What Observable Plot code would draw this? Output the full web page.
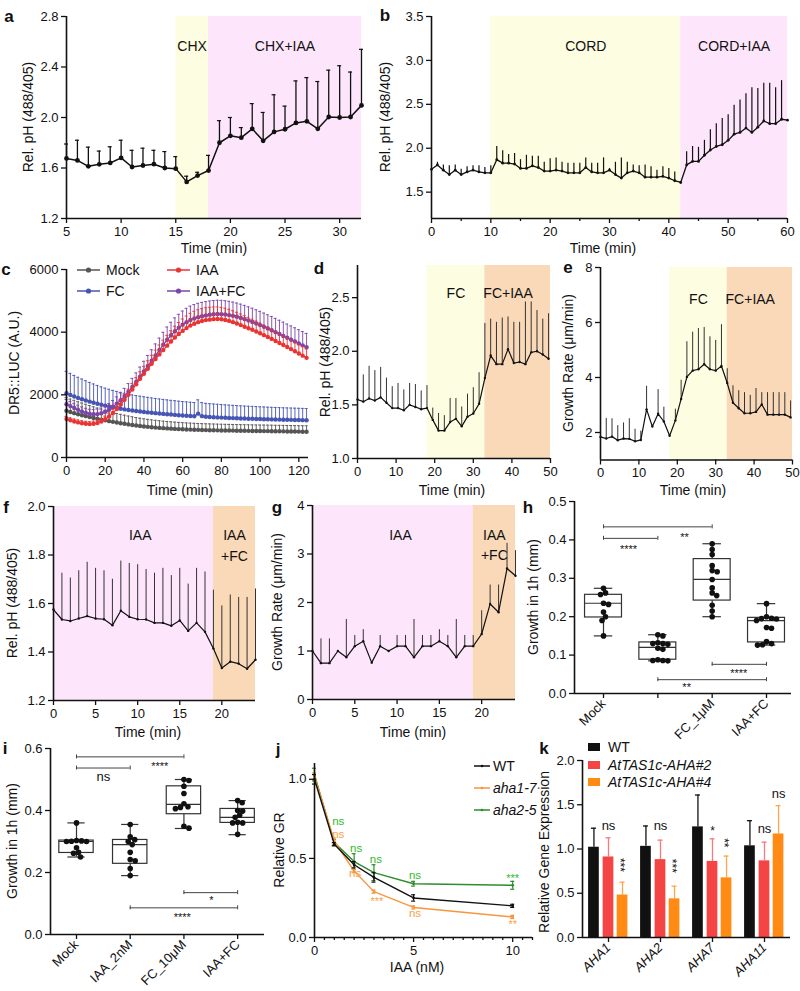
<!DOCTYPE html>
<html><head><meta charset="utf-8">
<script src="https://cdn.jsdelivr.net/npm/d3@7"></script>
<script src="https://cdn.jsdelivr.net/npm/@observablehq/plot@0.6"></script>
<style>
body{margin:0;background:#fff;}
#fig{position:relative;width:800px;height:991px;overflow:hidden;background:#fff;font-family:"Liberation Sans",Arial,Helvetica,sans-serif;color:#111;}
#fig svg{position:absolute;}
.t{position:absolute;white-space:nowrap;line-height:1;}
</style></head><body><div id="fig"></div>
<script>
// ---------------- DATA ----------------
// a
const aTime = [5,6,7,8,9,10,11,12,13,14,15,16,17,18,19,20,21,22,23,24,25,26,27,28,29,30,31,32];
const aMean = [1.676,1.66,1.613,1.629,1.64,1.68,1.608,1.62,1.63,1.60,1.595,1.49,1.54,1.58,1.80,1.855,1.84,1.91,1.815,1.886,1.907,1.957,1.97,1.91,2.004,2.0,2.004,2.096];
const aTop  = [1.79,1.82,1.765,1.734,1.768,1.82,1.74,1.757,1.74,1.73,1.69,1.535,1.566,1.70,1.975,2.0,1.92,2.11,2.04,2.18,2.09,2.29,2.316,2.285,2.375,2.41,2.36,2.54];
const aPhaseStart = [15,18], aPhaseEnd = [18,32], aPhaseLabel = ["CHX","CHX+IAA"];
// b
const bTime = [0,1,2,3,4,5,6,7,8,9,10,11,12,13,14,15,16,17,18,19,20,21,22,23,24,25,26,27,28,29,30,31,32,33,34,35,36,37,38,39,40,41,42,43,44,45,46,47,48,49,50,51,52,53,54,55,56,57,58,59,60];
const bMean = [1.76,1.81,1.75,1.70,1.75,1.70,1.73,1.75,1.73,1.72,1.72,
  1.87,1.83,1.83,1.82,1.77,1.77,1.80,1.78,1.74,1.74,
  1.75,1.74,1.72,1.72,1.72,1.78,1.73,1.72,1.72,1.75,
  1.70,1.66,1.72,1.74,1.72,1.67,1.67,1.67,1.68,1.66,
  1.63,1.61,1.81,1.85,1.85,1.92,1.98,2.02,2.04,2.09,
  2.16,2.18,2.23,2.18,2.24,2.31,2.28,2.28,2.33,2.32];
const bTop = [1.76,1.84,1.81,1.80,1.81,1.76,1.79,1.80,1.80,1.78,1.80,
  2.02,1.97,1.93,1.94,1.87,1.92,1.91,1.91,1.84,1.88,
  1.89,1.84,1.83,1.83,1.83,1.89,1.83,1.83,1.89,1.77,
  1.84,1.89,1.84,1.81,1.80,1.81,1.79,1.75,1.79,1.77,
  1.73,1.61,1.96,2.02,2.01,2.09,2.21,2.28,2.34,2.38,
  2.49,2.55,2.62,2.69,2.68,2.74,2.74,2.69,2.77,2.32];
const bPhaseStart = [10,42], bPhaseEnd = [42,60], bPhaseLabel = ["CORD","CORD+IAA"];
// c
const cTime = [0,2,4,6,8,10,12,14,16,18,20,22,24,26,28,30,32,34,36,38,40,42,44,46,48,50,52,54,56,58,60,62,64,66,68,70,72,74,76,78,80,82,84,86,88,90,92,94,96,98,100,102,104,106,108,110,112,114,116,118,120,122,124];
const cSeries = ["Mock","FC","IAA+FC","IAA"];
const cMock = [1490,1450,1415,1380,1350,1320,1290,1262,1236,1210, 1185,1160,1138,1115,1095,1075,1056,1038,1020,1004, 990,978,966,955,945,936,928,920,913,906, 900,895,890,886,882,878,875,872,869,866, 864,862,860,858,856,854,852,850,848,846, 845,843,842,840,838,836,834,832,830,828, 826,824,822];
const cMockErr = [420,415,410,400,390,380,368,356,344,332, 320,310,300,290,282,275,268,262,256,250, 245,240,236,232,228,225,222,219,216,214, 212,210,208,206,204,203,202,201,200,199, 198,197,196,196,195,195,194,194,193,193, 192,192,191,191,190,190,190,190,190,190, 190,190,190];
const cFC = [2050,1995,1945,1900,1860,1820,1782,1748,1715,1685, 1655,1628,1602,1578,1556,1535,1516,1498,1482,1467, 1453,1440,1427,1415,1403,1392,1381,1370,1360,1350, 1341,1333,1325,1318,1400,1320,1300,1292,1285,1279, 1273,1267,1262,1257,1252,1247,1243,1239,1235,1231, 1227,1223,1219,1216,1213,1210,1207,1204,1201,1198, 1195,1192,1190];
const cFCErr = [700,690,675,660,645,630,615,600,585,570, 560,550,540,532,524,516,508,500,495,490, 485,480,475,470,466,462,458,455,452,449, 446,443,440,437,440,432,429,426,423,420, 417,414,411,408,405,402,400,398,396,394, 392,390,388,386,384,382,380,379,378,377, 376,375,374];
const cIAA = [1230,1190,1150,1120,1095,1075,1066,1075,1100,1150, 1220,1310,1420,1550,1690,1840,2000,2170,2340,2510, 2670,2830,2990,3140,3290,3430,3570,3700,3830,3940, 4040,4130,4210,4270,4320,4355,4385,4400,4415,4420, 4410,4390,4360,4320,4275,4225,4175,4125,4075,4020, 3965,3905,3845,3785,3720,3655,3590,3525,3460,3390, 3320,3250,3180];
const cIAAErr = [80,80,80,80,80,80,80,85,90,95, 100,110,120,135,150,165,180,195,210,225, 240,255,270,285,300,315,330,345,360,370, 380,385,390,395,395,395,395,395,390,385, 380,375,370,365,360,355,350,345,340,335, 330,325,320,315,310,305,300,300,295,295, 290,290,285];
const cIAAFC = [1700,1640,1580,1520,1465,1420,1390,1380,1385,1410, 1460,1530,1620,1720,1830,1960,2100,2250,2410,2580, 2750,2920,3090,3260,3430,3600,3760,3900,4030,4140, 4240,4320,4390,4440,4480,4510,4535,4555,4570,4580, 4575,4565,4545,4520,4490,4455,4415,4370,4325,4275, 4225,4170,4115,4060,4000,3940,3880,3820,3760,3700, 3640,3580,3520];
const cIAAFCErr = [150,150,150,150,150,150,150,150,160,170, 180,190,200,215,230,245,260,275,290,305, 320,335,350,365,380,395,405,415,425,430, 435,440,440,440,440,440,440,440,440,440, 440,440,440,440,440,440,440,440,440,440, 440,440,440,440,440,440,440,440,440,440, 440,440,440];
// d
const dTime = [0,1.5,3,4.5,6,7.5,9,10.5,12,13.5,15,16.5,18,19.5,21,22.5,24,25.5,27,28.5,30,31.5,33,34.5,36,37.5,39,40.5,42,43.5,45,46.5,48,49.5];
const dMean = [1.55,1.53,1.56,1.54,1.57,1.52,1.47,1.47,1.45,1.50,1.48,1.46,1.47,1.36,1.26,1.26,1.34,1.37,1.30,1.39,1.42,1.51,1.75,1.96,1.88,1.88,2.02,1.89,1.90,1.88,1.99,2.00,1.97,1.93];
const dTop  = [1.55,1.78,1.86,1.82,1.85,1.75,1.67,1.70,1.64,1.70,1.69,1.63,1.68,1.47,1.42,1.40,1.56,1.56,1.48,1.60,1.66,1.80,2.26,2.30,2.27,2.31,2.32,2.27,2.27,2.46,2.46,2.38,2.30,2.35];
const dPhaseStart = [18,33], dPhaseEnd = [33,50], dPhaseLabel = ["FC","FC+IAA"], dLabelAt = [25.5,39];
// e
const eTime = dTime;
const eMean = [1.84,1.78,1.85,1.72,1.78,1.77,1.68,1.73,2.84,2.22,2.68,2.40,1.88,2.44,3.22,4.02,4.25,4.30,4.48,4.30,4.25,4.42,3.80,3.08,2.88,2.70,2.70,2.75,3.02,2.65,2.65,2.65,2.65,2.55];
const eTop  = [1.84,2.51,2.50,2.25,2.35,2.50,2.12,2.05,3.68,2.22,3.56,2.92,1.88,2.85,3.90,5.30,5.65,5.78,5.82,5.48,5.35,5.92,4.32,3.70,3.52,3.45,3.35,3.60,3.45,3.45,3.45,3.45,3.45,3.15];
const ePhaseStart = [18,33], ePhaseEnd = [33,50], ePhaseLabel = ["FC","FC+IAA"], eLabelAt = [25.5,39];
// f
const fTime = [0,1,2,3,4,5,6,7,8,9,10,11,12,13,14,15,16,17,18,19,20,21,22,23,24];
const fMean = [1.575,1.534,1.528,1.538,1.548,1.538,1.535,1.51,1.57,1.545,1.535,1.534,1.52,1.52,1.508,1.53,1.487,1.52,1.483,1.414,1.334,1.36,1.352,1.331,1.368];
const fTop  = [1.575,1.725,1.705,1.735,1.77,1.745,1.735,1.70,1.775,1.765,1.76,1.74,1.725,1.745,1.715,1.745,1.68,1.745,1.73,1.655,1.59,1.635,1.625,1.625,1.66];
const fPhaseStart = [0,19], fPhaseEnd = [19,24], fPhaseLabel = ["IAA","IAA\n+FC"], fLabelAt = [10.3,21.5];
// g
const gTime = fTime;
const gMean = [1.0,0.75,0.75,1.0,0.87,1.1,1.2,0.76,1.1,1.0,1.1,1.1,0.87,1.1,1.1,1.2,1.1,0.87,1.1,1.1,1.35,1.97,1.8,2.7,2.55];
const gTop  = [1.0,1.25,1.25,1.0,1.65,1.32,1.44,0.76,1.32,1.0,1.32,1.32,1.65,1.32,1.32,1.44,1.32,1.65,1.32,1.32,1.83,2.36,2.36,3.22,3.07];
const gPhaseStart = [0,19], gPhaseEnd = [19,24], gPhaseLabel = ["IAA","IAA\n+FC"], gLabelAt = [10.4,21.5];
// h
const hCats = ["Mock","IAA","FC_1μM","IAA+FC"];
const hTickLabels = ["Mock","","FC_1μM","IAA+FC"];
const hPts = [
  [0.274,0.262,0.258,0.235,0.232,0.212,0.2,0.19,0.15],
  [0.153,0.15,0.132,0.13,0.13,0.128,0.118,0.115,0.088,0.086,0.086,0.085],
  [0.39,0.375,0.362,0.333,0.32,0.317,0.297,0.275,0.262,0.255,0.23,0.215,0.2],
  [0.234,0.2,0.196,0.195,0.194,0.19,0.172,0.17,0.135,0.13,0.127,0.126]];
const hMin = [0.15,0.085,0.2,0.126], hQ1 = [0.198,0.088,0.242,0.133], hMed = [0.235,0.12,0.297,0.19], hQ3 = [0.257,0.133,0.35,0.197], hMax = [0.274,0.153,0.39,0.234];
const hBrFrom = [0,0,2,1], hBrTo = [2,1,3,3], hBrY = [0.434,0.404,0.076,0.036];
const hBrText = ["**","****","****","**"], hBrTx = [1.49,0.46,2.49,1.53], hBrTy = [0.415,0.384,0.059,0.023];
// i
const iCats = ["Mock","IAA_2nM","FC_10μM","IAA+FC"];
const iPts = [
  [0.36,0.303,0.302,0.301,0.30,0.30,0.28,0.265,0.262,0.25],
  [0.355,0.315,0.306,0.30,0.29,0.265,0.242,0.238,0.213,0.19],
  [0.5,0.497,0.478,0.455,0.422,0.412,0.41,0.406,0.349,0.343],
  [0.432,0.425,0.4,0.398,0.385,0.378,0.362,0.36,0.36,0.323]];
const iMin = [0.25,0.19,0.342,0.322], iQ1 = [0.263,0.228,0.388,0.36], iMed = [0.30,0.29,0.42,0.378], iQ3 = [0.303,0.305,0.478,0.405], iMax = [0.36,0.355,0.5,0.432];
const iBrFrom = [0,0,2,1], iBrTo = [2,1,3,3], iBrY = [0.573,0.537,0.135,0.086];
const iBrText = ["****","ns","*","****"], iBrTx = [1.55,0.5,2.51,1.97], iBrTy = [0.551,0.508,0.118,0.066];
// j
const jX = [0,1,2,3,5,10];
const jNames = ["WT","aha1-7","aha2-5"];
const jWT = [1.0,0.59,0.46,0.38,0.25,0.20], jWTErr = [0.03,0.01,0.02,0.03,0.02,0.01];
const jA17 = [1.02,0.61,0.42,0.29,0.19,0.13], jA17Err = [0.02,0.02,0.01,0.01,0.01,0.01];
const jA25 = [1.03,0.60,0.48,0.41,0.34,0.33], jA25Err = [0.04,0.02,0.05,0.05,0.015,0.025];
const jSigSeries = ["aha2-5","aha2-5","aha2-5","aha2-5","aha2-5","aha1-7","aha1-7","aha1-7","aha1-7","aha1-7"];
const jSigX = [1.2,2.1,3.1,5.07,10.0, 1.2,2.05,3.15,5.07,10.0];
const jSigY = [0.735,0.563,0.494,0.395,0.395, 0.652,0.405,0.247,0.152,0.10];
const jSigText = ["ns","ns","ns","ns","***", "ns","ns","***","ns","**"];
// k
const kGenes = ["AHA1","AHA2","AHA7","AHA11"];
const kGeno = ["WT","AtTAS1c-AHA#2","AtTAS1c-AHA#4"];
const kWT = [1.02,1.03,1.25,1.036], kWTErr = [0.215,0.23,0.36,0.284];
const k2 = [0.91,0.88,0.86,0.866], k2Err = [0.216,0.22,0.255,0.211];
const k4 = [0.48,0.437,0.674,1.17], k4Err = [0.145,0.143,0.246,0.32];
const kSigGene = [0,0,1,1,2,2,3,3], kSigGeno = [1,2,1,2,1,2,1,2];
const kSigY = [1.26,0.82,1.26,0.81,1.23,1.07,1.23,1.62];
const kSigText = ["ns","***","ns","***","*","**","ns","ns"];
const kSigRot = [0,90,0,90,0,90,0,0];

// ---------------- STYLE ----------------
const FONT = '"Liberation Sans", Arial, Helvetica, sans-serif';
const YEL = "#fdfde1", PINK = "#fde6fb", PEACH = "#f9d9b8";
const INK = "#111";
const fig = document.getElementById("fig");

function panel(frame, xs, ys, marks, m) {
  const mm = Object.assign({l: 44, r: 12, t: 12, b: 40}, m || {});
  const svg = Plot.plot({
    width: frame[1] - frame[0] + mm.l + mm.r,
    height: frame[3] - frame[2] + mm.t + mm.b,
    marginLeft: mm.l, marginRight: mm.r, marginTop: mm.t, marginBottom: mm.b,
    x: xs, y: ys, color: {type: "identity"},
    style: {fontFamily: FONT, fontSize: "13px", color: INK, background: "none", overflow: "visible"},
    marks
  });
  svg.style.left = (frame[0] - mm.l) + "px";
  svg.style.top = (frame[2] - mm.t) + "px";
  fig.appendChild(svg);
  return svg;
}
const AX = {tickSize: 5, tickPadding: 3, strokeWidth: 1.3, fontSize: 13, label: null};
const xAxis = (ticks, fmt, o) => Plot.axisX({...AX, ticks, tickFormat: fmt, ...(o || {})});
const yAxis = (ticks, fmt, o) => Plot.axisY({...AX, ticks, tickFormat: fmt, ...(o || {})});
const minorX = (ticks) => Plot.axisX({...AX, tickSize: 3, ticks, tickFormat: () => ""});
const axisLines = (xd, yd) => [Plot.ruleX([xd[0]], {stroke: INK, strokeWidth: 1.6}), Plot.ruleY([yd[0]], {stroke: INK, strokeWidth: 1.6})];
const f1 = d3.format(".1f");

function label(text, x, y, o = {}) {
  const d = document.createElement("div");
  d.className = "t";
  d.textContent = text;
  d.style.left = x + "px"; d.style.top = y + "px";
  d.style.fontSize = (o.size || 14) + "px";
  if (o.bold) d.style.fontWeight = "bold";
  if (o.italic) d.style.fontStyle = "italic";
  d.style.transform = "translate(-50%,-50%)" + (o.rot ? " rotate(-90deg)" : "");
  fig.appendChild(d);
}
function phasesOf(st, en, lab, fills, at) {
  return st.map((s, i) => ({start: s, end: en[i], label: lab[i], fill: fills[i], at: at ? at[i] : (s + en[i]) / 2}));
}
function timeCourse(frame, xd, yd, xt, yt, yfmt, time, mean, top, phases, opt) {
  const data = time.map((t, i) => ({t, m: mean[i], top: top[i]}));
  const marks = [
    Plot.rect(phases, {x1: "start", x2: "end", fill: "fill"}),
    Plot.text(phases, {x: "at", text: "label", frameAnchor: "top", dy: opt.labelDy, fontSize: 14, lineHeight: opt.lh || 1.45, fill: INK}),
    Plot.ruleX(data, {x: "t", y1: "m", y2: "top", stroke: opt.barColor || INK, strokeWidth: opt.barW || 1})
  ];
  if (opt.caps) marks.push(Plot.ruleY(data, {y: "top", x1: "t", x2: "t", insetLeft: -2, insetRight: -2, stroke: INK, strokeWidth: 1.2}));
  marks.push(
    Plot.line(data, {x: "t", y: "m", stroke: INK, strokeWidth: opt.lineW || 1.2}),
    Plot.dot(data, {x: "t", y: "m", r: opt.r || 1.3, fill: INK}),
    xAxis(xt, d => d), yAxis(yt, yfmt)
  );
  if (opt.minor) marks.push(minorX(opt.minor));
  marks.push(...axisLines(xd, yd));
  panel(frame, {domain: xd}, {domain: yd}, marks);
}

// ---------- a ----------
timeCourse([66, 361, 16, 218], [5, 32], [1.2, 2.8], [5,10,15,20,25,30], [1.2,1.6,2.0,2.4,2.8], f1,
  aTime, aMean, aTop, phasesOf(aPhaseStart, aPhaseEnd, aPhaseLabel, [YEL, PINK]),
  {labelDy: 20, caps: true, r: 2.4, lineW: 1.5, barW: 1.3});
// ---------- b ----------
timeCourse([431, 787, 16, 218], [0, 60], [1.2, 3.5], [0,10,20,30,40,50,60], [1.5,2.0,2.5,3.0,3.5], f1,
  bTime, bMean, bTop, phasesOf(bPhaseStart, bPhaseEnd, bPhaseLabel, [YEL, PINK]),
  {labelDy: 20, r: 1.4, lineW: 1.3, barW: 1.2, minor: [5,15,25,35,45,55]});
// ---------- d ----------
timeCourse([357, 550, 265, 458], [0, 50], [1.0, 2.8], [0,10,20,30,40,50], [1.0,1.5,2.0,2.5], f1,
  dTime, dMean, dTop, phasesOf(dPhaseStart, dPhaseEnd, dPhaseLabel, [YEL, PEACH], dLabelAt),
  {labelDy: 18, r: 1.2, barColor: "#333"});
// ---------- e ----------
timeCourse([600, 792, 267, 459.5], [0, 50], [1, 8], [0,10,20,30,40,50], [2,4,6,8], d => d,
  eTime, eMean, eTop, phasesOf(ePhaseStart, ePhaseEnd, ePhaseLabel, [YEL, PEACH], eLabelAt),
  {labelDy: 22, r: 1.2, barColor: "#333"});
// ---------- f ----------
timeCourse([53, 255, 506, 700], [0, 24], [1.2, 2.0], [0,5,10,15,20], [1.2,1.4,1.6,1.8,2.0], f1,
  fTime, fMean, fTop, phasesOf(fPhaseStart, fPhaseEnd, fPhaseLabel, [PINK, PEACH], fLabelAt),
  {labelDy: 19, r: 1.2, barColor: "#333", lh: 1.5});
// ---------- g ----------
timeCourse([312, 515, 505, 699], [0, 24], [0, 4], [0,5,10,15,20], [0,1,2,3,4], d => d,
  gTime, gMean, gTop, phasesOf(gPhaseStart, gPhaseEnd, gPhaseLabel, [PINK, PEACH], gLabelAt),
  {labelDy: 20, r: 1.2, barColor: "#333", lh: 1.45});

// ---------- c ----------
const cColor = {"Mock": "#555555", "FC": "#4654b4", "IAA+FC": "#7c45a8", "IAA": "#ea3434"};
const cVals = {"Mock": [cMock, cMockErr], "FC": [cFC, cFCErr], "IAA+FC": [cIAAFC, cIAAFCErr], "IAA": [cIAA, cIAAErr]};
(function () {
  const marks = [];
  for (const s of cSeries) {
    const [m, e] = cVals[s];
    const data = cTime.map((t, i) => ({t, m: m[i], top: m[i] + e[i]}));
    marks.push(
      Plot.ruleX(data, {x: "t", y1: "m", y2: "top", stroke: cColor[s], strokeWidth: 0.9}),
      Plot.ruleY(data, {y: "top", x1: "t", x2: "t", insetLeft: -1.5, insetRight: -1.5, stroke: cColor[s], strokeWidth: 0.9}),
      Plot.line(data, {x: "t", y: "m", stroke: cColor[s], strokeWidth: 1.2}),
      Plot.dot(data, {x: "t", y: "m", r: 2.2, fill: cColor[s]})
    );
  }
  marks.push(xAxis([0,20,40,60,80,100,120], d => d), yAxis([0,2000,4000,6000], d => String(d)), ...axisLines([0, 125], [0, 6000]));
  panel([66, 308, 269, 457], {domain: [0, 125]}, {domain: [0, 6000]}, marks);
})();

// ---------- box plots h, i ----------
function swarm(vals, pxPerUnit, stepPx, r) {
  const order = vals.map((v, i) => i).sort((a, b) => vals[b] - vals[a]);
  const placed = [], off = [];
  for (const i of order) {
    const y = vals[i] * pxPerUnit;
    for (let k = 0; k < 400; k++) {
      const c = (k % 2 ? 1 : -1) * Math.ceil(k / 2) * 0.5;
      if (placed.every(p => (p.x - c) ** 2 + (p.y - y) ** 2 >= (1.75 * r) ** 2)) { placed.push({x: c, y}); off[i] = c / stepPx; break; }
    }
  }
  return off;
}
function boxPanel(frame, xd, yd, yt, pts, mn, q1, med, q3, mx, tickLabels, br, pxPerUnit, stepPx, hw) {
  const boxes = mn.map((v, i) => ({i, min: v, q1: q1[i], med: med[i], q3: q3[i], max: mx[i]}));
  const dots = pts.flatMap((arr, i) => { const off = swarm(arr, pxPerUnit, stepPx, 2.8); return arr.map((v, k) => ({x: i + off[k], v})); });
  const brs = br.from.map((f, k) => ({a: f, b: br.to[k], y: br.y[k], t: br.text[k], tx: br.tx[k], ty: br.ty[k]}));
  const ends = brs.flatMap(d => [{x: d.a, y: d.y}, {x: d.b, y: d.y}]);
  const S = "#333";
  panel(frame, {domain: xd}, {domain: yd}, [
    Plot.ruleY(brs, {y: "y", x1: "a", x2: "b", stroke: "#444", strokeWidth: 1}),
    Plot.ruleX(ends, {x: "x", y1: "y", y2: "y", insetTop: -2, insetBottom: -2, stroke: "#444", strokeWidth: 1}),
    Plot.text(brs, {filter: d => d.t !== "ns", x: "tx", y: "ty", text: "t", fontSize: 11, dy: 3, fill: INK}),
    Plot.text(brs, {filter: d => d.t === "ns", x: "tx", y: "ty", text: "t", fontSize: 13, fill: INK}),
    Plot.ruleX(boxes, {x: "i", y1: "q3", y2: "max", stroke: S, strokeWidth: 1.2}),
    Plot.ruleX(boxes, {x: "i", y1: "min", y2: "q1", stroke: S, strokeWidth: 1.2}),
    Plot.ruleY(boxes, {y: "max", x1: d => d.i - hw / 2, x2: d => d.i + hw / 2, stroke: S, strokeWidth: 1.2}),
    Plot.ruleY(boxes, {y: "min", x1: d => d.i - hw / 2, x2: d => d.i + hw / 2, stroke: S, strokeWidth: 1.2}),
    Plot.rect(boxes, {x1: d => d.i - hw, x2: d => d.i + hw, y1: "q1", y2: "q3", fill: "none", stroke: S, strokeWidth: 1.2}),
    Plot.ruleY(boxes, {y: "med", x1: d => d.i - hw, x2: d => d.i + hw, stroke: S, strokeWidth: 1.2}),
    Plot.dot(dots, {x: "x", y: "v", r: 2.8, fill: INK}),
    xAxis([0, 1, 2, 3], i => tickLabels[i], {tickRotate: -45}),
    yAxis(yt, f1),
    ...axisLines(xd, yd)
  ], {b: 70});
}
boxPanel([574, 791, 501, 693], [-0.534, 3.46], [0, 0.5], [0,0.1,0.2,0.3,0.4,0.5], hPts, hMin, hQ1, hMed, hQ3, hMax, hTickLabels,
  {from: hBrFrom, to: hBrTo, y: hBrY, text: hBrText, tx: hBrTx, ty: hBrTy}, 384, 54.3, 0.34);
boxPanel([50, 264, 748, 934], [-0.484, 3.5], [0, 0.6], [0,0.2,0.4,0.6], iPts, iMin, iQ1, iMed, iQ3, iMax, iCats,
  {from: iBrFrom, to: iBrTo, y: iBrY, text: iBrText, tx: iBrTx, ty: iBrTy}, 310, 53.7, 0.32);

// ---------- j ----------
const jColor = {"WT": "#111111", "aha1-7": "#f7963c", "aha2-5": "#2e8b2e"};
const jText = {"aha1-7": "#f7a048", "aha2-5": "#2dbb2d"};
(function () {
  const vals = {"WT": [jWT, jWTErr], "aha1-7": [jA17, jA17Err], "aha2-5": [jA25, jA25Err]};
  const marks = [minorX([0.5,1,1.5,2,2.5,3,3.5,4,4.5,5.5,6,6.5,7,7.5,8,8.5,9,9.5,10.5,11])];
  for (const s of ["aha2-5", "aha1-7", "WT"]) {
    const [m, e] = vals[s];
    const data = jX.map((x, i) => ({x, v: m[i], lo: m[i] - e[i], hi: m[i] + e[i]}));
    marks.push(
      Plot.ruleX(data, {x: "x", y1: "lo", y2: "hi", stroke: jColor[s], strokeWidth: 1.2}),
      Plot.ruleY(data, {y: "hi", x1: "x", x2: "x", insetLeft: -2, insetRight: -2, stroke: jColor[s], strokeWidth: 1.2}),
      Plot.ruleY(data, {y: "lo", x1: "x", x2: "x", insetLeft: -2, insetRight: -2, stroke: jColor[s], strokeWidth: 1.2}),
      Plot.line(data, {x: "x", y: "v", stroke: jColor[s], strokeWidth: 1.4}),
      Plot.dot(data, {x: "x", y: "v", r: 1.4, fill: jColor[s]})
    );
  }
  const sig = jSigX.map((x, i) => ({x, y: jSigY[i], t: jSigText[i], c: jText[jSigSeries[i]]}));
  marks.push(
    Plot.text(sig, {filter: d => d.t === "ns", x: "x", y: "y", text: "t", fill: "c", fontSize: 11.5}),
    Plot.text(sig, {filter: d => d.t !== "ns", x: "x", y: "y", text: "t", fill: "c", fontSize: 11, dy: 3}),
    xAxis([0, 5, 10], d => d), yAxis([0, 0.5, 1.0], f1), ...axisLines([0, 11], [0, 1.1]));
  panel([314, 532, 763, 937], {domain: [0, 11]}, {domain: [0, 1.1]}, marks);
})();

// ---------- k ----------
const kColor = ["#111111", "#f44444", "#ff8a14"];
const kErrColor = ["#111111", "#f77b7b", "#ffa54d"];
const kOff = [-0.28, 0, 0.27], kHalf = 0.103;
(function () {
  const vals = [[kWT, kWTErr], [k2, k2Err], [k4, k4Err]];
  const data = kGenes.flatMap((g, gi) => kGeno.map((n, j) => ({gi, j, v: vals[j][0][gi], top: vals[j][0][gi] + vals[j][1][gi]})));
  const sig = kSigGene.map((g, i) => ({x: g + kOff[kSigGeno[i]], y: kSigY[i], t: kSigText[i], rot: kSigRot[i]}));
  panel([582, 790, 760, 937], {domain: [-0.5, 3.5]}, {domain: [0, 2]}, [
    Plot.ruleX(data, {x: d => d.gi + kOff[d.j], y1: "v", y2: "top", stroke: d => kErrColor[d.j], strokeWidth: 1.3}),
    Plot.ruleY(data, {y: "top", x1: d => d.gi + kOff[d.j], x2: d => d.gi + kOff[d.j], insetLeft: -2.5, insetRight: -2.5, stroke: d => kErrColor[d.j], strokeWidth: 1.3}),
    Plot.rectY(data, {x1: d => d.gi + kOff[d.j] - kHalf, x2: d => d.gi + kOff[d.j] + kHalf, y: "v", fill: d => kColor[d.j]}),
    Plot.text(sig, {filter: d => d.t === "ns", x: "x", y: "y", text: "t", fontSize: 13, fill: INK}),
    Plot.text(sig, {filter: d => d.t !== "ns" && !d.rot, x: "x", y: "y", text: "t", fontSize: 12, dy: 3, fill: INK}),
    Plot.text(sig, {filter: d => d.rot, x: "x", y: "y", text: "t", fontSize: 12, rotate: 90, dx: -3, fill: INK}),
    xAxis([0, 1, 2, 3], i => kGenes[i], {tickRotate: -45, fontStyle: "italic"}),
    yAxis([0, 0.5, 1.0, 1.5, 2.0], f1),
    ...axisLines([-0.5, 3.5], [0, 2])
  ], {b: 60});
})();

// ---------- titles, letters, legends ----------
label("Rel. pH (488/405)", 28, 117, {rot: true});
label("Rel. pH (488/405)", 385, 117, {rot: true});
label("DR5::LUC (A.U.)", 14, 363, {rot: true});
label("Rel. pH (488/405)", 325, 362, {rot: true});
label("Growth Rate (μm/min)", 568, 363, {rot: true});
label("Rel. pH (488/405)", 12, 603, {rot: true});
label("Growth Rate (μm/min)", 277, 602, {rot: true});
label("Growth in 1h (mm)", 533, 597, {rot: true});
label("Growth in 1h (mm)", 12, 841, {rot: true});
label("Relative GR", 279, 850, {rot: true});
label("Relative Gene Expression", 544, 852, {rot: true});

label("Time (min)", 214, 248);
label("Time (min)", 603, 248);
label("Time (min)", 180, 490);
label("Time (min)", 452, 490);
label("Time (min)", 693, 490);
label("Time (min)", 148, 732);
label("Time (min)", 413, 732);
label("IAA (nM)", 417, 967);

const letters = [["a",9,16],["b",385,15],["c",6,269],["d",319,268],["e",568,267],["f",6,507],["g",277,507],["h",528,507],["i",5,748],["j",278,749],["k",544,748]];
for (const [t, x, y] of letters) label(t, x, y, {bold: true, size: 17});

function legendItem(x, y, color, text, kind, italic) {
  const svgNS = "http://www.w3.org/2000/svg";
  const s = document.createElementNS(svgNS, "svg");
  s.setAttribute("width", 26); s.setAttribute("height", 12);
  s.style.left = (x) + "px"; s.style.top = (y - 6) + "px";
  if (kind === "box") {
    const r = document.createElementNS(svgNS, "rect");
    r.setAttribute("x", 1); r.setAttribute("y", 2); r.setAttribute("width", 12); r.setAttribute("height", 8); r.setAttribute("fill", color);
    s.appendChild(r);
  } else {
    const w = kind === "short" ? 16 : 23;
    const l = document.createElementNS(svgNS, "line");
    l.setAttribute("x1", 0); l.setAttribute("x2", w); l.setAttribute("y1", 6); l.setAttribute("y2", 6);
    l.setAttribute("stroke", color); l.setAttribute("stroke-width", 1.5);
    const c = document.createElementNS(svgNS, "circle");
    c.setAttribute("cx", w / 2); c.setAttribute("cy", 6); c.setAttribute("r", kind === "short" ? 1.3 : 2.6); c.setAttribute("fill", color);
    s.appendChild(l); s.appendChild(c);
  }
  fig.appendChild(s);
  const d = document.createElement("div");
  d.className = "t"; d.textContent = text;
  d.style.fontSize = "14px";
  if (italic) d.style.fontStyle = "italic";
  d.style.left = (x + (kind === "box" ? 21 : kind === "short" ? 19 : 29)) + "px";
  d.style.top = y + "px"; d.style.transform = "translateY(-50%)";
  fig.appendChild(d);
}
legendItem(77, 270, cColor["Mock"], "Mock");
legendItem(167, 270, cColor["IAA"], "IAA");
legendItem(77, 291, cColor["FC"], "FC");
legendItem(167, 291, cColor["IAA+FC"], "IAA+FC");
jNames.forEach((n, i) => legendItem(474, 766 + i * 22, jColor[n], n, "short", i > 0));
kGeno.forEach((n, i) => legendItem(587, 747 + i * 17.5, kColor[i], n, "box", i > 0));
</script></body></html>
